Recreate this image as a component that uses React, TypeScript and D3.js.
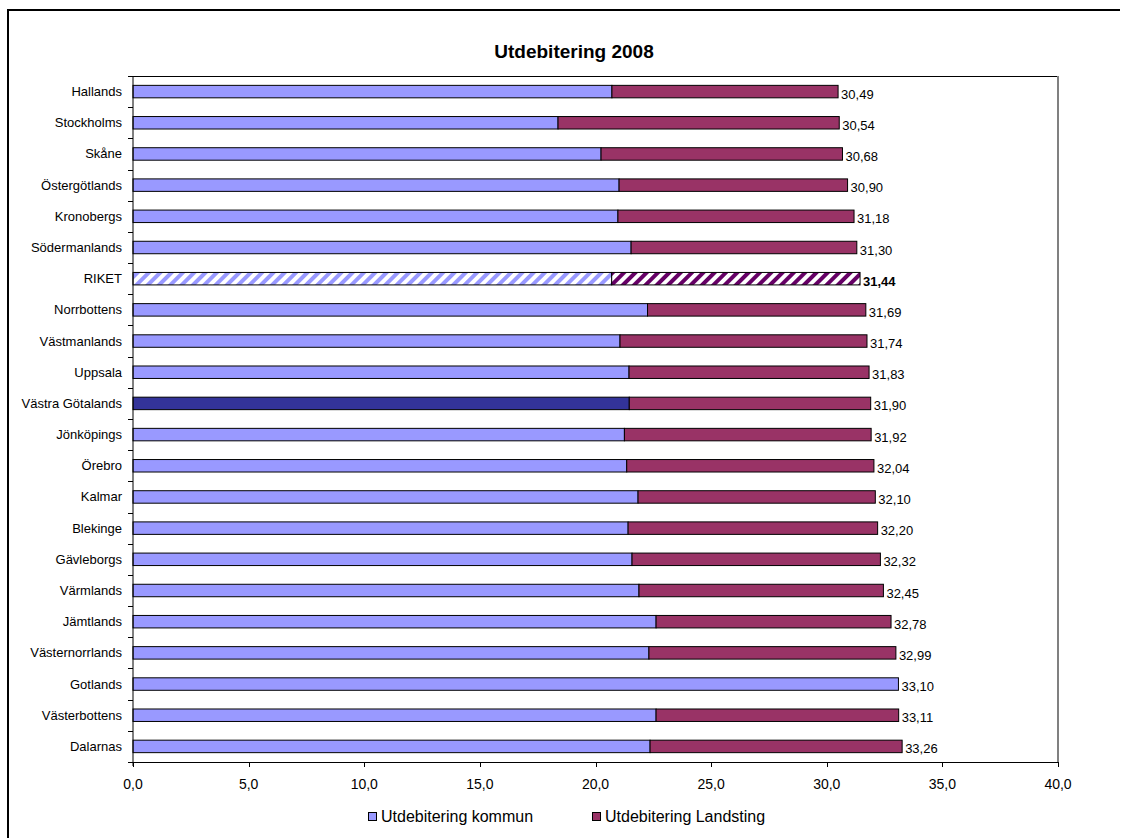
import React, { useEffect, useRef } from 'react'
import * as d3 from 'd3'

// Data
const lan = ['Hallands', 'Stockholms', 'Skåne', 'Östergötlands', 'Kronobergs', 'Södermanlands', 'RIKET',
    'Norrbottens', 'Västmanlands', 'Uppsala', 'Västra Götalands', 'Jönköpings', 'Örebro', 'Kalmar',
    'Blekinge', 'Gävleborgs', 'Värmlands', 'Jämtlands', 'Västernorrlands', 'Gotlands', 'Västerbottens', 'Dalarnas']

const kommun = [20.71, 18.38, 20.24, 21.02, 20.97, 21.54, 20.70,
    22.25, 21.06, 21.45, 21.46, 21.25, 21.35, 21.84,
    21.41, 21.58, 21.88, 22.62, 22.31, 33.10, 22.62, 22.36]

const totalt = [30.49, 30.54, 30.68, 30.90, 31.18, 31.30, 31.44,
    31.69, 31.74, 31.83, 31.90, 31.92, 32.04, 32.10,
    32.20, 32.32, 32.45, 32.78, 32.99, 33.10, 33.11, 33.26]

const xTicks = [0, 5, 10, 15, 20, 25, 30, 35, 40]

const fmt = (v: number) => v.toFixed(2).replace('.', ',')
const fmtTick = (v: number) => v.toFixed(1).replace('.', ',')

export default function App() {
    const ref = useRef<SVGSVGElement>(null)

    useEffect(() => {
        const svg = d3.select(ref.current)
        svg.selectAll('*').remove()

        const font = 'Arial, "Liberation Sans", sans-serif'

        // Scales
        const xScale = d3.scaleLinear().domain([0, 40]).range([133, 1058])
        const yScale = d3.scaleBand().domain(lan).range([76, 762])
        const barH = yScale.bandwidth() * 0.4

        // Patterns for RIKET
        const defs = svg.append('defs')
        const pat = (id: string, color: string) => {
            const p = defs.append('pattern')
                .attr('id', id)
                .attr('patternUnits', 'userSpaceOnUse')
                .attr('width', 8)
                .attr('height', 8)
                .attr('patternTransform', 'rotate(45)')
            p.append('rect').attr('width', 8).attr('height', 8).attr('fill', '#fff')
            p.append('rect').attr('width', 4).attr('height', 8).attr('fill', color)
        }
        pat('hatchK', '#9999FF')
        pat('hatchL', '#660066')

        // Outer frame (only top and left visible)
        svg.append('path')
            .attr('d', 'M8,838 L8,10 L1120,10')
            .attr('fill', 'none')
            .attr('stroke', '#000')
            .attr('stroke-width', 2)

        // Title
        svg.append('text')
            .text('Utdebitering 2008')
            .attr('x', 574).attr('y', 58)
            .attr('text-anchor', 'middle')
            .attr('font-family', font)
            .attr('font-size', '19px')
            .attr('font-weight', 'bold')
            .attr('fill', '#000')

        // Plot area border
        svg.append('line').attr('x1', 133).attr('x2', 1058).attr('y1', 76.5).attr('y2', 76.5)
            .attr('stroke', '#000')
        svg.append('line').attr('x1', 1058).attr('x2', 1058).attr('y1', 76).attr('y2', 762)
            .attr('stroke', '#808080').attr('stroke-width', 2)

        lan.forEach((name, i) => {
            const y = (yScale(name) as number) + yScale.bandwidth() / 2
            const riket = name === 'RIKET'
            const kFill = riket ? 'url(#hatchK)' : name === 'Västra Götalands' ? '#333399' : '#9999FF'
            const lFill = riket ? 'url(#hatchL)' : '#993366'

            // Kommun
            svg.append('rect')
                .attr('x', xScale(0))
                .attr('y', y - barH / 2)
                .attr('width', xScale(kommun[i]) - xScale(0))
                .attr('height', barH)
                .attr('fill', kFill)
                .attr('stroke', '#000')
                .attr('stroke-width', 1)

            // Landsting
            if (totalt[i] > kommun[i]) {
                svg.append('rect')
                    .attr('x', xScale(kommun[i]))
                    .attr('y', y - barH / 2)
                    .attr('width', xScale(totalt[i]) - xScale(kommun[i]))
                    .attr('height', barH)
                    .attr('fill', lFill)
                    .attr('stroke', '#000')
                    .attr('stroke-width', 1)
            }

            // Value label
            svg.append('text')
                .text(fmt(totalt[i]))
                .attr('x', xScale(totalt[i]) + 3)
                .attr('y', y + 7)
                .attr('font-family', font)
                .attr('font-size', '13px')
                .attr('font-weight', riket ? 'bold' : 'normal')
                .attr('fill', '#000')

            // Category label
            svg.append('text')
                .text(name)
                .attr('x', 122)
                .attr('y', y + 4.5)
                .attr('text-anchor', 'end')
                .attr('font-family', font)
                .attr('font-size', '13px')
                .attr('fill', '#000')
        })

        // Y axis
        svg.append('line').attr('x1', 133).attr('x2', 133).attr('y1', 76).attr('y2', 766)
            .attr('stroke', '#000')
        lan.forEach(name => {
            const yy = Math.round(yScale(name) as number) + 0.5
            svg.append('line').attr('x1', 128).attr('x2', 133).attr('y1', yy).attr('y2', yy)
                .attr('stroke', '#000')
        })
        svg.append('line').attr('x1', 128).attr('x2', 133).attr('y1', 762.5).attr('y2', 762.5)
            .attr('stroke', '#000')

        // X axis
        svg.append('line').attr('x1', 133).attr('x2', 1058).attr('y1', 762.5).attr('y2', 762.5)
            .attr('stroke', '#000')
        xTicks.forEach(t => {
            const xx = Math.round(xScale(t)) + 0.5
            svg.append('line').attr('x1', xx).attr('x2', xx).attr('y1', 762).attr('y2', 767)
                .attr('stroke', '#000')
            svg.append('text')
                .text(fmtTick(t))
                .attr('x', xScale(t))
                .attr('y', 789)
                .attr('text-anchor', 'middle')
                .attr('font-family', font)
                .attr('font-size', '14px')
                .attr('fill', '#000')
        })

        // Legend
        const legend = [
            { label: 'Utdebitering kommun', color: '#9999FF', x: 368 },
            { label: 'Utdebitering Landsting', color: '#993366', x: 592 }
        ]
        legend.forEach(l => {
            svg.append('rect')
                .attr('x', l.x + 0.5).attr('y', 812.5)
                .attr('width', 8).attr('height', 8)
                .attr('fill', l.color)
                .attr('stroke', '#000')
            svg.append('text')
                .text(l.label)
                .attr('x', l.x + 13)
                .attr('y', 822)
                .attr('font-family', font)
                .attr('font-size', '16px')
                .attr('fill', '#000')
        })
    }, [])

    return (
        <svg ref={ref} width={1125} height={838}
            style={{ position: 'absolute', left: 0, top: 0, display: 'block' }} />
    )
}
